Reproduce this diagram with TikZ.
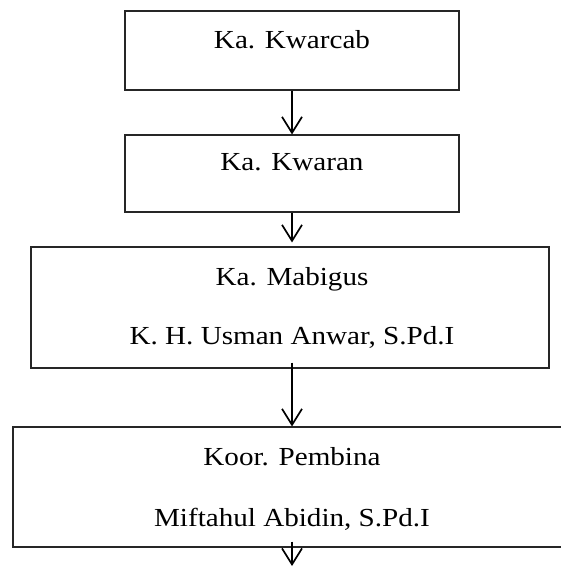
\documentclass[tikz,border=0pt]{standalone}
\usepackage{fontspec}
\setmainfont[FakeStretch=1.12]{Liberation Serif}
\usetikzlibrary{arrows.meta}
\begin{document}
\begin{tikzpicture}[x=1pt,y=-1pt,
  orgbox/.style={draw=black!85, line width=1.1pt, rectangle, inner sep=0pt},
  txt/.style={anchor=base, inner sep=0pt, font=\fontsize{26}{30}\selectfont},
  arr/.style={line width=1.7pt, -{Straight Barb[length=16pt,width=20pt,line width=1.7pt]}}]
\useasboundingbox (0,0) rectangle (560,567);
% boxes
\node[orgbox, minimum width=334pt, minimum height=79pt] (b1) at (292,50.5) {};
\node[orgbox, minimum width=334pt, minimum height=77pt] (b2) at (292,173.5) {};
\node[orgbox, minimum width=518pt, minimum height=121pt] (b3) at (290,307.5) {};
\node[orgbox, minimum width=558pt, minimum height=120pt] (b4) at (292,487) {};
% texts
\node[txt] (t1) at (292,48.3) {Ka. Kwarcab};
\node[txt] (t2) at (292,170.7) {Ka. Kwaran};
\node[txt] (t3a) at (292,285) {Ka. Mabigus};
\node[txt] (t3b) at (292,344) {K. H. Usman Anwar, S.Pd.I};
\node[txt] (t4a) at (292,465) {Koor. Pembina};
\node[txt] (t4b) at (292,526) {Miftahul Abidin, S.Pd.I};
% connectors
\coordinate (e4) at (292,566);
\draw[arr] (b1.south -| t1.south) -- (b2.north -| t1.south);
\draw[arr] (b2.south -| t1.south) -- ([yshift=4pt]b3.north -| t1.south);
\draw[arr] ([yshift=6pt]b3.south -| t1.south) -- (b4.north -| t1.south);
\draw[arr] ([yshift=6pt]b4.south -| t1.south) -- (e4);
\end{tikzpicture}
\end{document}
